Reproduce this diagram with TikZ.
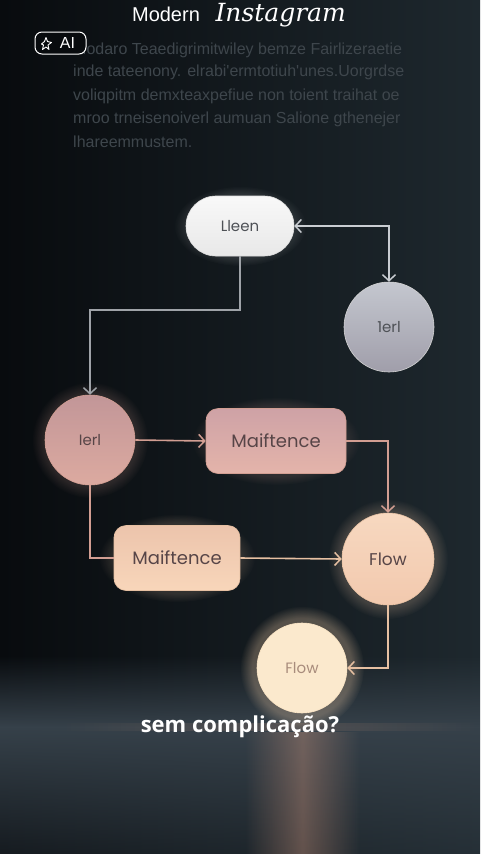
\documentclass[tikz,border=0pt]{standalone}
\usepackage{fontspec}
\setmainfont{Poppins}
\newfontfamily\bodyfont{Liberation Sans}
\newfontfamily\subfont{Open Sans}
\newfontfamily\titlefont{DejaVu Serif}
\usepackage{tikz}
\usetikzlibrary{arrows.meta,fadings,calc}

\definecolor{bgdark}{HTML}{080B0E}
\definecolor{bgblue}{HTML}{1E282E}
\definecolor{floor}{HTML}{36414A}
\definecolor{blurtext}{HTML}{3E464C}
\definecolor{wiregray}{HTML}{9FA3A8}
\definecolor{wirelight}{HTML}{C9CDD2}
\definecolor{wirepink}{HTML}{D29E92}
\definecolor{wirepeach}{HTML}{E6C0A2}
\definecolor{txtgray}{HTML}{4E5156}
\definecolor{txtbrown}{HTML}{574547}

\tikzfading[name=rise, top color=transparent!100, bottom color=transparent!0]
\tikzfading[name=sink, top color=transparent!0, bottom color=transparent!70]
\tikzfading[name=fade ends, left color=transparent!100, right color=transparent!100, middle color=transparent!0]

\tikzstyle{pill}   = [rounded corners=30pt,minimum width=108pt,minimum height=60pt,line width=0.6pt]
\tikzstyle{box}    = [rounded corners=12pt,minimum height=65pt,line width=0.6pt]
\tikzstyle{ball}   = [circle,minimum size=90pt,inner sep=0pt,line width=0.6pt]
\tikzstyle{wire}   = [line width=1.6pt,-{Straight Barb[length=6pt,width=13pt,line width=1.5pt]}]
\tikzstyle{twoway} = [line width=1.6pt,{Straight Barb[length=6pt,width=13pt,line width=1.5pt]}-{Straight Barb[length=6pt,width=13pt,line width=1.5pt]}]
\tikzstyle{glow}   = [path fading=circle with fuzzy edge 20 percent]

\begin{document}
\begin{tikzpicture}[x=1pt,y=-1pt,font=\fontsize{15}{17}\selectfont]
\useasboundingbox (0,0) rectangle (480,854);
\clip (0,0) rectangle (480,854);

    % backdrop
    \shade[left color=bgdark,right color=bgblue] (0,0) rectangle (480,854);
    \fill[floor,path fading=rise] (0,655) rectangle (480,727);
    \fill[floor,path fading=sink] (0,727) rectangle (480,854);
    \fill[pink!55!brown,opacity=0.35,path fading=fade ends] (245,732) rectangle (360,854);
    \fill[pink!50!brown,opacity=0.18,path fading=fade ends] (60,723) rectangle (480,731);

    % title
    \node[anchor=base,text=white,font=\bodyfont\fontsize{20}{20}\selectfont] (modern) at (166,21) {Modern};
    \node[anchor=base west,text=white,font=\titlefont\itshape\fontsize{25}{25}\selectfont] (insta) at (212,21) {Instagram};

    % blurred intro text
    \begin{scope}[every node/.style={anchor=west,inner sep=0pt,text=blurtext,font=\bodyfont\fontsize{16}{18}\selectfont}]
    \node (p1) at (73,50)  {Modaro Teaedigrimitwiley bemze Fairlizeraetie};
    \node (p2) at (73,72)  {inde tateenony. elrabi'ermtotiuh'unes.Uorgrdse};
    \node (p3) at (73,96)  {voliqpitm demxteaxpefiue non toient traihat oe};
    \node (p4) at (73,119) {mroo trneisenoiverl aumuan Salione gthenejer};
    \node (p5) at (73,142) {lhareemmustem.};
    \end{scope}

    % AI badge
    \node[draw=white!85,line width=1pt,rounded corners=7pt,fill=bgdark,text=white,
          minimum width=51pt,minimum height=22pt,inner sep=0pt,font=\bodyfont\fontsize{16}{16}\selectfont] (ai) at (60.5,43)
          {\hspace{14pt}AI};
    \draw[white,line width=0.9pt,line join=round] ($(ai.west)+(7,1)$)
          -- ++(3,-2.5) -- ++(1.5,-4) -- ++(1.5,4) -- ++(4,1) -- ++(-3.5,2.5)
          -- ++(1,4.5) -- ++(-3,-2.5) -- ++(-3.5,2.5) -- ++(1,-4.5) -- cycle;

    % glows
    \fill[white!80!gray,opacity=0.12,glow] (240,226) ellipse (66 and 40);
    \fill[wirepink,opacity=0.16,glow] (90,440) circle (58);
    \fill[wirepink,opacity=0.14,glow] (276,441) ellipse (84 and 44);
    \fill[wirepeach,opacity=0.16,glow] (177,558) ellipse (78 and 44);
    \fill[wirepeach,opacity=0.2,glow] (388,559) circle (60);
    \fill[orange!30!white,opacity=0.28,glow] (302,668) circle (62);

    % nodes
    \node[pill,top color=white!95!gray,bottom color=white!82!gray,draw=white!75!gray,text=txtgray] (lleen) at (240,226) {Lleen};
    \node[ball,top color={rgb,255:red,196;green,199;blue,207},bottom color={rgb,255:red,160;green,158;blue,170},
          draw=white!65!gray,text=txtgray] (terl) at (389,327) {1erl};
    \node[ball,top color={rgb,255:red,194;green,150;blue,152},bottom color={rgb,255:red,220;green,170;blue,160},
          draw=wirepink,text=txtbrown] (ierl) at (90,440) {Ierl};
    \node[box,minimum width=140pt,top color={rgb,255:red,206;green,162;blue,166},bottom color={rgb,255:red,228;green,180;blue,170},
          draw=wirepink,text=txtbrown,font=\fontsize{18}{20}\selectfont] (mait1) at (276,441) {Maiftence};
    \node[box,minimum width=126pt,top color={rgb,255:red,236;green,196;blue,172},bottom color={rgb,255:red,248;green,214;blue,186},
          draw=wirepeach,text=txtbrown,font=\fontsize{18}{20}\selectfont] (mait2) at (177,558) {Maiftence};
    \node[ball,minimum size=92pt,top color={rgb,255:red,247;green,216;blue,192},bottom color={rgb,255:red,242;green,201;blue,174},
          draw=wirepeach,text=txtbrown,font=\fontsize{17}{19}\selectfont] (flow1) at (388,559) {Flow};
    \node[ball,fill={rgb,255:red,251;green,233;blue,205},draw={rgb,255:red,250;green,228;blue,196},
          text={rgb,255:red,168;green,140;blue,124},font=\fontsize{15}{17}\selectfont] (flow2) at (302,668) {Flow};

    % connectors
    \draw[twoway,wirelight] (lleen.east) -| (terl.north);
    \draw[wire,wiregray] (lleen.south) |- (90,310) -- (ierl.north);
    \draw[wire,wirepink] (ierl.east) -- (mait1.west);
    \draw[wire,wirepink] (mait1.east) -| (flow1.north);
    \draw[wirepink,line width=1.6pt] (ierl.south) |- (mait2.west);
    \draw[wire,wirepeach] (mait2.east) -- (flow1.west);
    \draw[wire,wirepeach] (flow1.south) |- (flow2.east);

    % caption
    \node[text=white,font=\subfont\bfseries\fontsize{22}{24}\selectfont] (cap) at (240,727) {sem complicação?};

\end{tikzpicture}
\end{document}
